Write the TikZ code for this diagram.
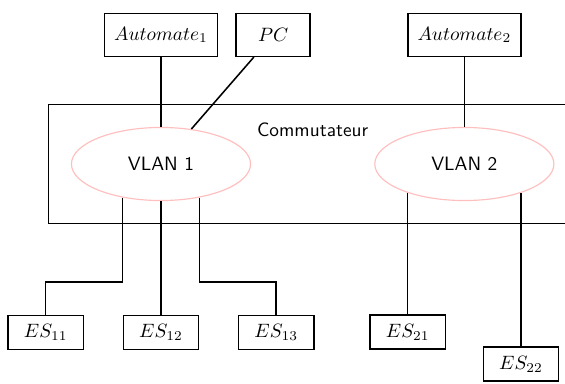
\documentclass[tikz,border=0pt]{standalone}
\usepackage{amsmath}
\usepackage{tikz}
\usetikzlibrary{shapes.geometric, positioning, calc}
\tikzstyle{device} = [rectangle, minimum width=1.35cm, minimum height=0.78cm, inner xsep=5pt, text centered, draw=black, thick]
\tikzstyle{station} = [rectangle, minimum width=1.37cm, minimum height=0.62cm, text centered, draw=black, thick]
\tikzstyle{vlan} = [ellipse, minimum width=3.26cm, minimum height=1.33cm, draw=red!25, semithick, font=\sffamily]
\tikzstyle{link} = [thick]

\begin{document}
\begin{tikzpicture}[node distance=1cm]
    \useasboundingbox (-2.93,-3.986) rectangle (7.353,2.985);
    \clip (-2.93,-3.986) rectangle (7.353,2.985);

    % VLANs
    \node (vlan1) [vlan] at (0,0) {VLAN 1};
    \node (vlan2) [vlan, right=2.24cm of vlan1] {VLAN 2};

    % Switch
    \node (switch) [rectangle, draw=black, thick, minimum width=9.61cm, minimum height=2.17cm] at ($(vlan1)!0.5!(vlan2)$) {};
    \node (switchname) [below=0.22cm of switch.north, font=\sffamily] {Commutateur};

    % Top row
    \node (auto1) [device, above=1.27cm of vlan1] {$Automate_1$};
    \node (pc) [device, right=0.31cm of auto1] {$PC$};
    \node (auto2) [device, above=1.27cm of vlan2] {$Automate_2$};

    % Bottom row
    \node (es12) [station, below=2.07cm of vlan1] {$ES_{12}$};
    \node (es11) [station, left=0.7cm of es12] {$ES_{11}$};
    \node (es13) [station, right=0.7cm of es12] {$ES_{13}$};
    \node (es21) [station, below=2.21cm of vlan2.207] {$ES_{21}$};
    \node (es22) [station, below=2.79cm of vlan2.333] {$ES_{22}$};

    % Links
    \draw [link] (auto1) -- (vlan1);
    \draw [link] (pc) -- (vlan1);
    \draw [link] (auto2) -- (vlan2);
    \draw [link] (vlan1.221) |- ($(es11.north)+(0,0.6)$) -- (es11);
    \draw [link] (vlan1) -- (es12);
    \draw [link] (vlan1.319) |- ($(es13.north)+(0,0.6)$) -- (es13);
    \draw [link] (vlan2.207) -- (es21);
    \draw [link] (vlan2.333) -- (es22);
\end{tikzpicture}
\end{document}
